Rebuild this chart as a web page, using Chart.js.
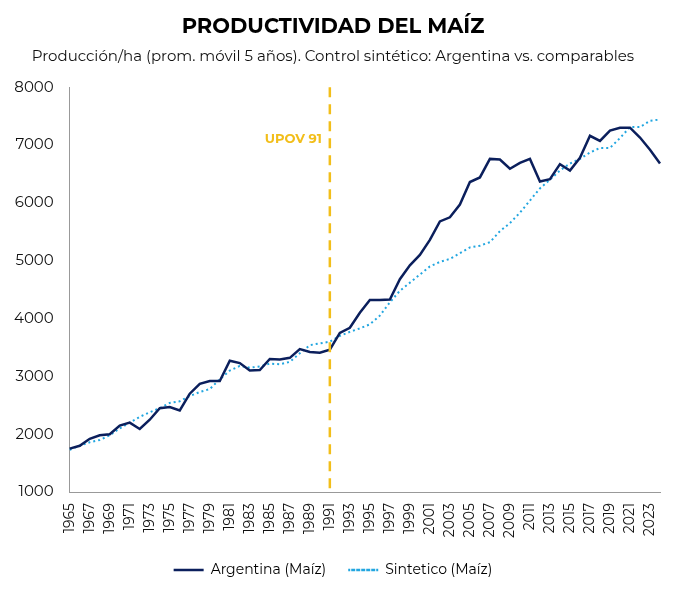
<!DOCTYPE html>
<html><head><meta charset="utf-8">
<script src="https://cdn.jsdelivr.net/npm/chart.js@4"></script>
<style>body{margin:0;background:#fff}#wrap{width:680px;height:595px}</style>
</head><body><div id="wrap"><canvas id="c"></canvas></div>
<script>
const years = [];
for (let y = 1965; y <= 2024; y++) years.push(String(y));
const argentina = [1750,1800,1920,1980,2000,2150,2200,2090,2250,2450,2470,2410,2700,2870,2920,2920,3270,3230,3100,3110,3300,3290,3320,3470,3420,3410,3460,3750,3840,4100,4320,4320,4330,4680,4920,5100,5360,5680,5750,5970,6360,6440,6760,6750,6590,6690,6760,6370,6410,6670,6560,6780,7160,7070,7250,7300,7300,7130,6920,6680];
const sintetico = [1730,1800,1860,1900,1980,2100,2200,2300,2380,2450,2540,2570,2660,2730,2780,2950,3100,3180,3150,3170,3220,3210,3250,3400,3540,3570,3600,3700,3770,3830,3900,4050,4280,4480,4620,4760,4900,4980,5030,5130,5230,5260,5320,5510,5650,5830,6040,6250,6400,6560,6680,6760,6870,6950,6950,7120,7310,7310,7420,7440];
const markerYear = '1991';
const markerLabel = 'UPOV 91';

const font = 'Montserrat, "Noto Sans", sans-serif';
Chart.defaults.font.family = font;
Chart.defaults.color = '#111';

const upov = {
  id: 'upov',
  afterDatasetsDraw(chart) {
    const {ctx, chartArea, scales} = chart;
    const x = scales.x.getPixelForValue(years.indexOf(markerYear));
    ctx.save();
    ctx.strokeStyle = '#F2BE1A';
    ctx.lineWidth = 2.5;
    ctx.setLineDash([10, 7]);
    ctx.beginPath();
    ctx.moveTo(x, chartArea.top);
    ctx.lineTo(x, chartArea.bottom);
    ctx.stroke();
    ctx.fillStyle = '#F2BE1A';
    ctx.font = 'bold 13px ' + font;
    ctx.textAlign = 'right';
    ctx.fillText(markerLabel, x - 8, scales.y.getPixelForValue(7100));
    ctx.restore();
  }
};

new Chart(document.getElementById('c'), {
  type: 'line',
  data: {
    labels: years,
    datasets: [
      {label: 'Argentina (Maíz)', data: argentina, borderColor: '#0B1F5C', borderWidth: 2.5, pointRadius: 0, tension: 0},
      {label: 'Sintetico (Maíz)', data: sintetico, borderColor: '#22A6E0', borderWidth: 2, borderDash: [2, 3], pointRadius: 0, tension: 0}
    ]
  },
  options: {
    responsive: true, maintainAspectRatio: false, animation: false,
    layout: {padding: {left: 6, right: 20, top: 4, bottom: 8}},
    plugins: {
      title: {display: true, text: 'PRODUCTIVIDAD DEL MAÍZ', font: {size: 21, weight: 'bold'}, color: '#000', padding: {top: 10, bottom: 8}},
      subtitle: {display: true, text: 'Producción/ha (prom. móvil 5 años). Control sintético: Argentina vs. comparables', font: {size: 15}, color: '#111', padding: {bottom: 22}},
      legend: {position: 'bottom', labels: {boxWidth: 30, boxHeight: 0, font: {size: 14}, padding: 22,
        generateLabels(chart) {
          return chart.data.datasets.map((d, i) => ({text: d.label, strokeStyle: d.borderColor, fillStyle: d.borderColor, lineWidth: 2.5, lineDash: d.borderDash || [], datasetIndex: i}));
        }}},
      tooltip: {enabled: false}
    },
    scales: {
      x: {grid: {display: false}, border: {color: '#999'},
        ticks: {autoSkip: false, maxRotation: 90, minRotation: 90, font: {size: 14},
          callback(v, i) { return i % 2 === 0 ? years[i] : ''; }}},
      y: {min: 1000, max: 8000, grid: {display: false}, border: {color: '#999'},
        ticks: {stepSize: 1000, font: {size: 15}, padding: 8, callback: v => String(v)}}
    }
  },
  plugins: [upov]
});
</script></body></html>
